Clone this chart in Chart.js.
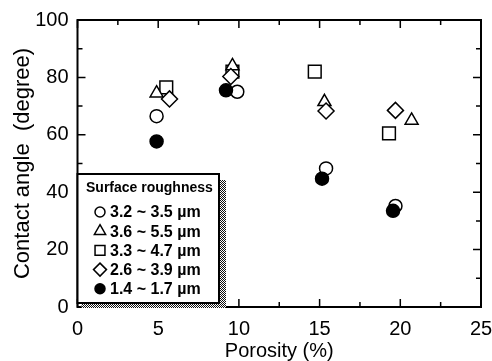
<!DOCTYPE html>
<html>
<head>
<meta charset="utf-8">
<script src="https://cdn.jsdelivr.net/npm/chart.js@4.4.1/dist/chart.umd.min.js"></script>
<style>
  html, body { margin: 0; padding: 0; background: #fff; }
  #wrap { width: 492px; height: 361px; }
</style>
</head>
<body>
<div id="wrap"><canvas id="chart"></canvas></div>
<script>
// data: porosity (%) vs contact angle (degree)
const labels = ["3.2 ~ 3.5 \u00b5m", "3.6 ~ 5.5 \u00b5m", "3.3 ~ 4.7 \u00b5m", "2.6 ~ 3.9 \u00b5m", "1.4 ~ 1.7 \u00b5m"];

const circleX = [4.9, 9.9, 15.4, 19.7];
const circleY = [66.5, 75, 48.3, 35.2];

const triangleX = [4.9, 9.6, 15.3, 20.7];
const triangleY = [74.5, 84, 71.5, 65];

const squareX = [5.5, 9.6, 14.7, 19.3];
const squareY = [76.5, 82, 82, 60.5];

const diamondX = [5.7, 9.5, 15.4, 19.7];
const diamondY = [72.5, 80.3, 68.3, 68.5];

const filledX = [4.9, 9.2, 15.15, 19.55];
const filledY = [57.7, 75.5, 44.7, 33.5];

const xTicks = [0, 5, 10, 15, 20, 25];
const yTicks = [0, 20, 40, 60, 80, 100];

// marker radius per point style (Chart.js sizes shapes differently)
const markerSize = { circle: 6.5, triangle: 7.5, rect: 9, rectRot: 8 };
const legendSize = { circle: 5, triangle: 6.5, rect: 7, rectRot: 6.5 };

function pts(xs, ys) {
  return xs.map((x, i) => ({ x: x, y: ys[i] }));
}

function series(label, xs, ys, style, fill, order) {
  return {
    label: label,
    data: pts(xs, ys),
    pointStyle: style,
    pointRadius: markerSize[style],
    pointBorderWidth: 1.5,
    pointBackgroundColor: fill,
    pointBorderColor: "#000",
    showLine: false,
    order: order,
  };
}

const datasets = [
  series(labels[0], circleX, circleY, "circle", "#fff", 3),
  series(labels[1], triangleX, triangleY, "triangle", "#fff", 2),
  series(labels[2], squareX, squareY, "rect", "#fff", 4),
  series(labels[3], diamondX, diamondY, "rectRot", "#fff", 1),
  series(labels[4], filledX, filledY, "circle", "#000", 0),
];

// frame with inward ticks on all four sides
const framePlugin = {
  id: "frame",
  beforeDatasetsDraw(chart) {
    const { ctx, chartArea: a, scales } = chart;
    ctx.save();
    ctx.strokeStyle = "#000";
    ctx.lineWidth = 2;
    ctx.strokeRect(a.left, a.top, a.right - a.left, a.bottom - a.top);
    ctx.lineWidth = 1.5;
    ctx.beginPath();
    for (let v = 0; v <= 25; v += 2.5) {
      const px = scales.x.getPixelForValue(v);
      const len = v % 5 === 0 ? 8 : 5;
      ctx.moveTo(px, a.bottom); ctx.lineTo(px, a.bottom - len);
      ctx.moveTo(px, a.top); ctx.lineTo(px, a.top + len);
    }
    for (let v = 0; v <= 100; v += 10) {
      const py = scales.y.getPixelForValue(v);
      const len = v % 20 === 0 ? 8 : 5;
      ctx.moveTo(a.left, py); ctx.lineTo(a.left + len, py);
      ctx.moveTo(a.right, py); ctx.lineTo(a.right - len, py);
    }
    ctx.stroke();
    ctx.restore();
  },
};

// boxed legend with a dotted shadow, lower left of the plot
const legendPlugin = {
  id: "boxLegend",
  afterDraw(chart) {
    const { ctx, chartArea: a } = chart;
    const left = a.left, top = 174, right = 219, bottom = 303;

    const pc = document.createElement("canvas");
    pc.width = 2; pc.height = 2;
    const p = pc.getContext("2d");
    p.fillStyle = "#fff"; p.fillRect(0, 0, 2, 2);
    p.fillStyle = "#111"; p.fillRect(0, 0, 1, 1); p.fillRect(1, 1, 1, 1);

    ctx.save();
    ctx.fillStyle = ctx.createPattern(pc, "repeat");
    ctx.fillRect(left + 4, top + 6, right - left + 3, a.bottom - top - 5);
    ctx.fillStyle = "#fff";
    ctx.fillRect(left, top, right - left, bottom - top);
    ctx.strokeStyle = "#000";
    ctx.lineWidth = 2;
    ctx.strokeRect(left, top, right - left, bottom - top);

    ctx.fillStyle = "#000";
    ctx.textBaseline = "middle";
    ctx.textAlign = "left";
    ctx.font = "bold 14px 'Liberation Sans', Arial, sans-serif";
    ctx.fillText("Surface roughness", 86, 188);

    ctx.font = "bold 16px 'Liberation Sans', Arial, sans-serif";
    chart.data.datasets.forEach((ds, i) => {
      const y = 212 + i * 19.2;
      ctx.fillStyle = ds.pointBackgroundColor;
      ctx.strokeStyle = "#000";
      ctx.lineWidth = 1.5;
      Chart.helpers.drawPoint(ctx, {
        pointStyle: ds.pointStyle,
        radius: legendSize[ds.pointStyle],
        borderWidth: 1.5,
        rotation: 0,
      }, 100, y);
      ctx.fillStyle = "#000";
      ctx.fillText(ds.label, 110, y + 1);
    });
    ctx.restore();
  },
};

const tickFont = { family: "'Liberation Sans', Arial, sans-serif", size: 20 };

new Chart(document.getElementById("chart"), {
  type: "scatter",
  data: { datasets: datasets },
  plugins: [framePlugin, legendPlugin],
  options: {
    responsive: true,
    maintainAspectRatio: false,
    animation: false,
    layout: { padding: { left: 0, right: 11, top: 20, bottom: 0 } },
    plugins: { legend: { display: false }, tooltip: { enabled: false } },
    scales: {
      x: {
        type: "linear",
        min: 0,
        max: 25,
        afterBuildTicks: (s) => { s.ticks = xTicks.map((v) => ({ value: v })); },
        afterFit: (s) => { s.height = 54; s.paddingLeft = 0; s.paddingRight = 0; },
        grid: { display: false, drawTicks: false },
        border: { display: false },
        ticks: { color: "#000", font: tickFont, padding: 10, maxRotation: 0 },
        title: {
          display: true,
          text: "Porosity (%)",
          color: "#000",
          font: { family: "'Liberation Sans', Arial, sans-serif", size: 20, lineHeight: 1 },
          padding: 0,
        },
      },
      y: {
        type: "linear",
        min: 0,
        max: 100,
        afterBuildTicks: (s) => { s.ticks = yTicks.map((v) => ({ value: v })); },
        afterFit: (s) => { s.width = 77.5; s.paddingTop = 0; s.paddingBottom = 0; },
        grid: { display: false, drawTicks: false },
        border: { display: false },
        ticks: { color: "#000", font: tickFont, padding: 9 },
        title: {
          display: true,
          text: "Contact angle  (degree)",
          color: "#000",
          font: { family: "'Liberation Sans', Arial, sans-serif", size: 22, lineHeight: 1 },
          padding: { top: 12, bottom: 0 },
        },
      },
    },
  },
});
</script>
</body>
</html>
